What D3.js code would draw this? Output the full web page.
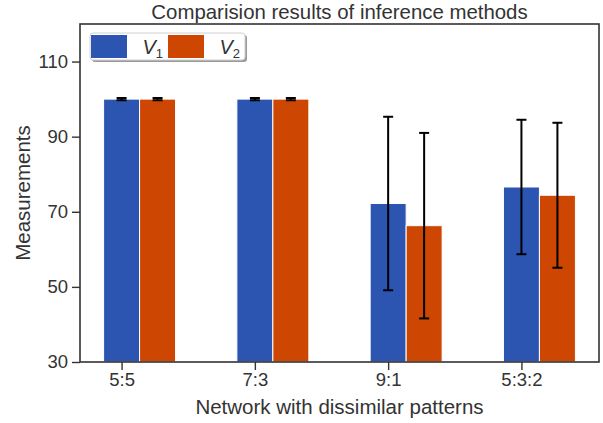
<!DOCTYPE html>
<html>
<head>
<meta charset="utf-8">
<script src="https://cdn.jsdelivr.net/npm/d3@7"></script>
<style>
    body { margin: 0; background: #fff; }
    svg { font-family: "Liberation Sans", Arial, sans-serif; }
</style>
</head>
<body>
<div id="chart"></div>
<script>
const categories = ["5:5", "7:3", "9:1", "5:3:2"]
const seriesNames = ["V1", "V2"]
const v1Values = [100, 100, 72.2, 76.6]
const v1Errors = [0.3, 0.3, 23.1, 17.9]
const v2Values = [100, 100, 66.3, 74.4]
const v2Errors = [0.3, 0.3, 24.7, 19.3]
const yTicks = [30, 50, 70, 90, 110]

const colors = ["#2c55b1", "#cd4602"]
const series = [
    { name: seriesNames[0], values: v1Values, errors: v1Errors },
    { name: seriesNames[1], values: v2Values, errors: v2Errors },
]

const chartProps = { width: 603, height: 423, marginLeft: 80, marginRight: 4, marginTop: 24, marginBottom: 61 }
const innerW = chartProps.width - chartProps.marginLeft - chartProps.marginRight
const innerH = chartProps.height - chartProps.marginTop - chartProps.marginBottom
const barWidth = 0.27

// matplotlib style 5% margins around the bars
const xLo = -barWidth / 2
const xHi = categories.length - 1 + barWidth * 1.5
const pad = (xHi - xLo) * 0.05

const xAxis = d3.scaleLinear()
    .domain([xLo - pad, xHi + pad])
    .range([0, innerW])

const yAxis = d3.scaleLinear()
    .domain([30, 120])
    .range([innerH, 0])

const svg = d3.select("#chart").append("svg")
    .attr("width", chartProps.width)
    .attr("height", chartProps.height)

const container = svg.append("g")
    .attr("transform", `translate(${chartProps.marginLeft}, ${chartProps.marginTop})`)

// bars
series.forEach((s, si) => {
    const g = container.append("g")
    g.selectAll("rect")
        .data(s.values)
        .enter()
        .append("rect")
        .attr("x", (d, i) => xAxis(i + si * barWidth - barWidth / 2))
        .attr("y", (d) => yAxis(d))
        .attr("width", xAxis(barWidth) - xAxis(0))
        .attr("height", (d) => innerH - yAxis(d))
        .attr("fill", colors[si])
        .attr("stroke", "#fff")
        .attr("stroke-width", 1)
})

// error bars
series.forEach((s, si) => {
    const g = container.append("g")
        .attr("stroke", "#000")
        .attr("stroke-width", 2)
    s.values.forEach((v, i) => {
        const cx = xAxis(i + si * barWidth)
        const y0 = yAxis(v - s.errors[i])
        const y1 = yAxis(v + s.errors[i])
        g.append("line").attr("x1", cx).attr("x2", cx).attr("y1", y0).attr("y2", y1)
        g.append("line").attr("x1", cx - 5).attr("x2", cx + 5).attr("y1", y0).attr("y2", y0)
        g.append("line").attr("x1", cx - 5).attr("x2", cx + 5).attr("y1", y1).attr("y2", y1)
    })
})

// axes
const xg = container.append("g")
    .attr("transform", `translate(0, ${innerH})`)
    .call(d3.axisBottom(xAxis)
        .tickValues(categories.map((c, i) => i))
        .tickFormat((d) => categories[d])
        .tickSize(8)
        .tickPadding(3))

const yg = container.append("g")
    .call(d3.axisLeft(yAxis)
        .tickValues(yTicks)
        .tickSize(8)
        .tickPadding(4))

;[xg, yg].forEach((g) => {
    g.select(".domain").remove()
    g.selectAll(".tick line").attr("stroke", "#333").attr("stroke-width", 1.4)
    g.selectAll(".tick text")
        .attr("fill", "#333")
        .style("font-size", "18.5px")
})

// frame
container.append("rect")
    .attr("x", 0)
    .attr("y", 0)
    .attr("width", innerW)
    .attr("height", innerH)
    .attr("fill", "none")
    .attr("stroke", "#333")
    .attr("stroke-width", 1.6)

// labels
svg.append("text")
    .attr("x", chartProps.marginLeft + innerW / 2)
    .attr("y", 19)
    .attr("text-anchor", "middle")
    .attr("fill", "#333")
    .style("font-size", "20.4px")
    .text("Comparision results of inference methods")

svg.append("text")
    .attr("x", chartProps.marginLeft + innerW / 2)
    .attr("y", 414)
    .attr("text-anchor", "middle")
    .attr("fill", "#333")
    .style("font-size", "20.5px")
    .text("Network with dissimilar patterns")

svg.append("text")
    .attr("transform", `translate(30, ${chartProps.marginTop + innerH / 2}) rotate(-90)`)
    .attr("text-anchor", "middle")
    .attr("fill", "#333")
    .style("font-size", "20.5px")
    .text("Measurements")

// legend
const legend = svg.append("g").attr("transform", "translate(90, 33)")
legend.append("rect")
    .attr("x", 2).attr("y", 2)
    .attr("width", 155).attr("height", 27)
    .attr("rx", 3)
    .attr("fill", "#9a9a9a")
legend.append("rect")
    .attr("width", 155).attr("height", 27)
    .attr("rx", 3)
    .attr("fill", "#fff")
    .attr("stroke", "#d0d0d0")

const entryX = [1, 78]
series.forEach((s, si) => {
    legend.append("rect")
        .attr("x", entryX[si])
        .attr("y", 2)
        .attr("width", 36)
        .attr("height", 23)
        .attr("fill", colors[si])
    const t = legend.append("text")
        .attr("x", entryX[si] + 72)
        .attr("y", 21)
        .attr("text-anchor", "end")
        .attr("fill", "#333")
        .style("font-size", "20px")
    t.append("tspan").style("font-style", "italic").text(s.name[0])
    t.append("tspan").attr("dy", 4).style("font-size", "13px").text(s.name.slice(1))
})
</script>
</body>
</html>
